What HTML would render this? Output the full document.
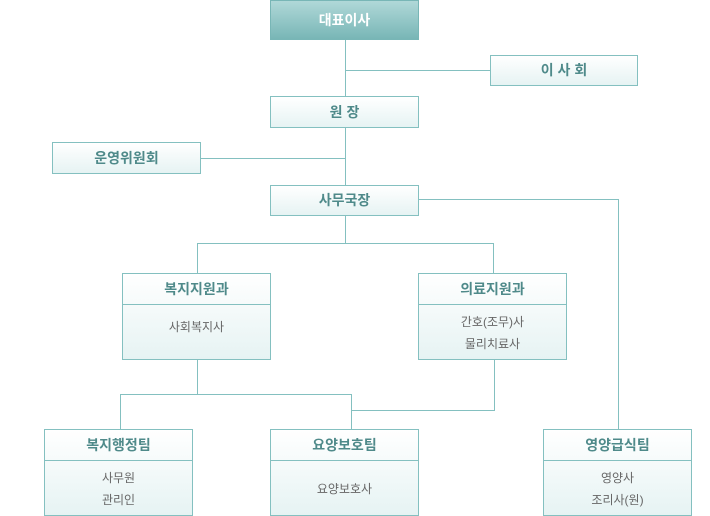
<!DOCTYPE html><html><head><meta charset="utf-8"><style>
body{margin:0;width:710px;height:516px;background:#fff;position:relative;overflow:hidden;font-family:"Liberation Sans","Noto Sans CJK KR",sans-serif}
.b{position:absolute;box-sizing:border-box;border:1px solid #84c0c0;background:linear-gradient(#fff,#e6f3f3);text-align:center;color:#4f8a8a;font-weight:bold;font-size:14px}
.h{box-sizing:border-box;border-bottom:1px solid #84c0c0;height:31px;line-height:30px}
.s{color:#666;font-weight:normal;font-size:12px;line-height:22px;padding-top:6px}
.l{position:absolute;background:#84c0c0}
</style></head><body>
<div class="l" style="left:345px;top:39px;width:1px;height:146px"></div>
<div class="l" style="left:345px;top:70px;width:145px;height:1px"></div>
<div class="l" style="left:200px;top:158px;width:145px;height:1px"></div>
<div class="l" style="left:345px;top:215px;width:1px;height:28px"></div>
<div class="l" style="left:197px;top:243px;width:297px;height:1px"></div>
<div class="l" style="left:197px;top:243px;width:1px;height:30px"></div>
<div class="l" style="left:493px;top:243px;width:1px;height:30px"></div>
<div class="l" style="left:418px;top:199px;width:200px;height:1px"></div>
<div class="l" style="left:618px;top:199px;width:1px;height:230px"></div>
<div class="l" style="left:197px;top:359px;width:1px;height:35px"></div>
<div class="l" style="left:120px;top:394px;width:231px;height:1px"></div>
<div class="l" style="left:120px;top:394px;width:1px;height:35px"></div>
<div class="l" style="left:351px;top:394px;width:1px;height:35px"></div>
<div class="l" style="left:494px;top:359px;width:1px;height:51px"></div>
<div class="l" style="left:351px;top:410px;width:144px;height:1px"></div>
<div class="b" style="left:270px;top:0;width:149px;height:40px;line-height:38px;background:linear-gradient(#b0d8d8,#78b6b6);color:#fff;border-color:#78b6b6">대표이사</div>
<div class="b" style="left:490px;top:55px;width:148px;height:31px;line-height:29px">이 사 회</div>
<div class="b" style="left:270px;top:96px;width:149px;height:32px;line-height:30px">원 장</div>
<div class="b" style="left:52px;top:142px;width:149px;height:32px;line-height:30px">운영위원회</div>
<div class="b" style="left:270px;top:185px;width:149px;height:31px;line-height:29px">사무국장</div>
<div class="b" style="left:122px;top:273px;width:149px;height:87px"><div class="h">복지지원과</div><div class="s" style="padding-top:11px">사회복지사</div></div>
<div class="b" style="left:418px;top:273px;width:149px;height:87px"><div class="h">의료지원과</div><div class="s">간호(조무)사<br>물리치료사</div></div>
<div class="b" style="left:44px;top:429px;width:149px;height:87px"><div class="h">복지행정팀</div><div class="s">사무원<br>관리인</div></div>
<div class="b" style="left:270px;top:429px;width:149px;height:87px"><div class="h">요양보호팀</div><div class="s" style="padding-top:17px">요양보호사</div></div>
<div class="b" style="left:543px;top:429px;width:149px;height:87px"><div class="h">영양급식팀</div><div class="s">영양사<br>조리사(원)</div></div>
</body></html>
